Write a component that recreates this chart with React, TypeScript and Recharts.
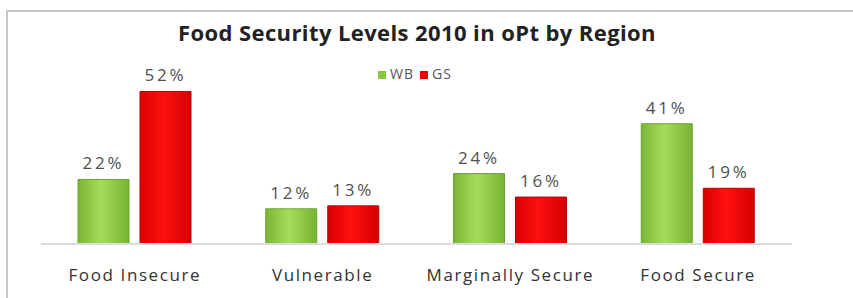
import { BarChart, Bar, XAxis, YAxis, LabelList } from "recharts";

const categories = ["Food Insecure", "Vulnerable", "Marginally Secure", "Food Secure"];
const wbValues = [22, 12, 24, 41];
const gsValues = [52, 13, 16, 19];
const seriesNames = ["WB", "GS"];

const data = categories.map((name, i) => ({ name, WB: wbValues[i], GS: gsValues[i] }));

const FONT = "'Open Sans', 'DejaVu Sans', sans-serif";

const pct = (v: number) => `${v}%`;

function LegendBox() {
  const swatch = (c: string) => ({
    display: "inline-block",
    width: 8,
    height: 8,
    background: c,
    marginRight: 4,
  });
  return (
    <div
      style={{
        position: "absolute",
        left: 378,
        top: 64,
        fontFamily: FONT,
        fontSize: 14,
        color: "#555",
        letterSpacing: 1,
        whiteSpace: "nowrap",
      }}
    >
      <span style={swatch("#8cc63f")} />
      <span style={{ marginRight: 6 }}>{seriesNames[0]}</span>
      <span style={swatch("#ee0000")} />
      <span>{seriesNames[1]}</span>
    </div>
  );
}

const valueStyle = { fill: "#505050", fontSize: 17, fontFamily: FONT, letterSpacing: 2.8 };

export default function App() {
  return (
    <div
      style={{
        position: "fixed",
        left: 0,
        top: 0,
        width: 853,
        height: 298,
        background: "#fff",
        overflow: "hidden",
      }}
    >
      <div
        style={{
          position: "absolute",
          left: 6,
          top: 10,
          width: 900,
          height: 320,
          border: "2px solid #c6c6c6",
        }}
      />
      <div
        style={{
          position: "absolute",
          left: 0,
          top: 17,
          width: 834,
          textAlign: "center",
          fontFamily: FONT,
          fontWeight: 700,
          fontSize: 22,
          letterSpacing: 0.4,
          color: "#222",
        }}
      >
        Food Security Levels 2010 in oPt by Region
      </div>
      <LegendBox />
      <div style={{ position: "absolute", left: 0, top: 0 }}>
        <BarChart
          width={853}
          height={298}
          data={data}
          margin={{ top: 68, right: 61, bottom: 0, left: 41 }}
          barSize={51}
          barGap={11}
        >
          <defs>
            <linearGradient id="gWB" x1="0" y1="0" x2="1" y2="0">
              <stop offset="0%" stopColor="#7ab535" />
              <stop offset="45%" stopColor="#a6dc5c" />
              <stop offset="100%" stopColor="#78b333" />
            </linearGradient>
            <linearGradient id="gGS" x1="0" y1="0" x2="1" y2="0">
              <stop offset="0%" stopColor="#d80000" />
              <stop offset="45%" stopColor="#ff1010" />
              <stop offset="100%" stopColor="#d40000" />
            </linearGradient>
          </defs>
          <XAxis
            dataKey="name"
            height={54}
            axisLine={{ stroke: "#dcdcdc", strokeWidth: 2 }}
            tickLine={false}
            tickMargin={19}
            tick={{ fill: "#333", fontSize: 17, fontFamily: FONT, letterSpacing: 1.6 }}
          />
          <YAxis hide domain={[0, 60]} />
          <Bar dataKey="WB" fill="url(#gWB)" stroke="#6fa32e" strokeWidth={1} isAnimationActive={false}>
            <LabelList dataKey="WB" position="top" offset={10} formatter={pct} style={valueStyle} />
          </Bar>
          <Bar dataKey="GS" fill="url(#gGS)" stroke="#c00000" strokeWidth={1} isAnimationActive={false}>
            <LabelList dataKey="GS" position="top" offset={10} formatter={pct} style={valueStyle} />
          </Bar>
        </BarChart>
      </div>
    </div>
  );
}
